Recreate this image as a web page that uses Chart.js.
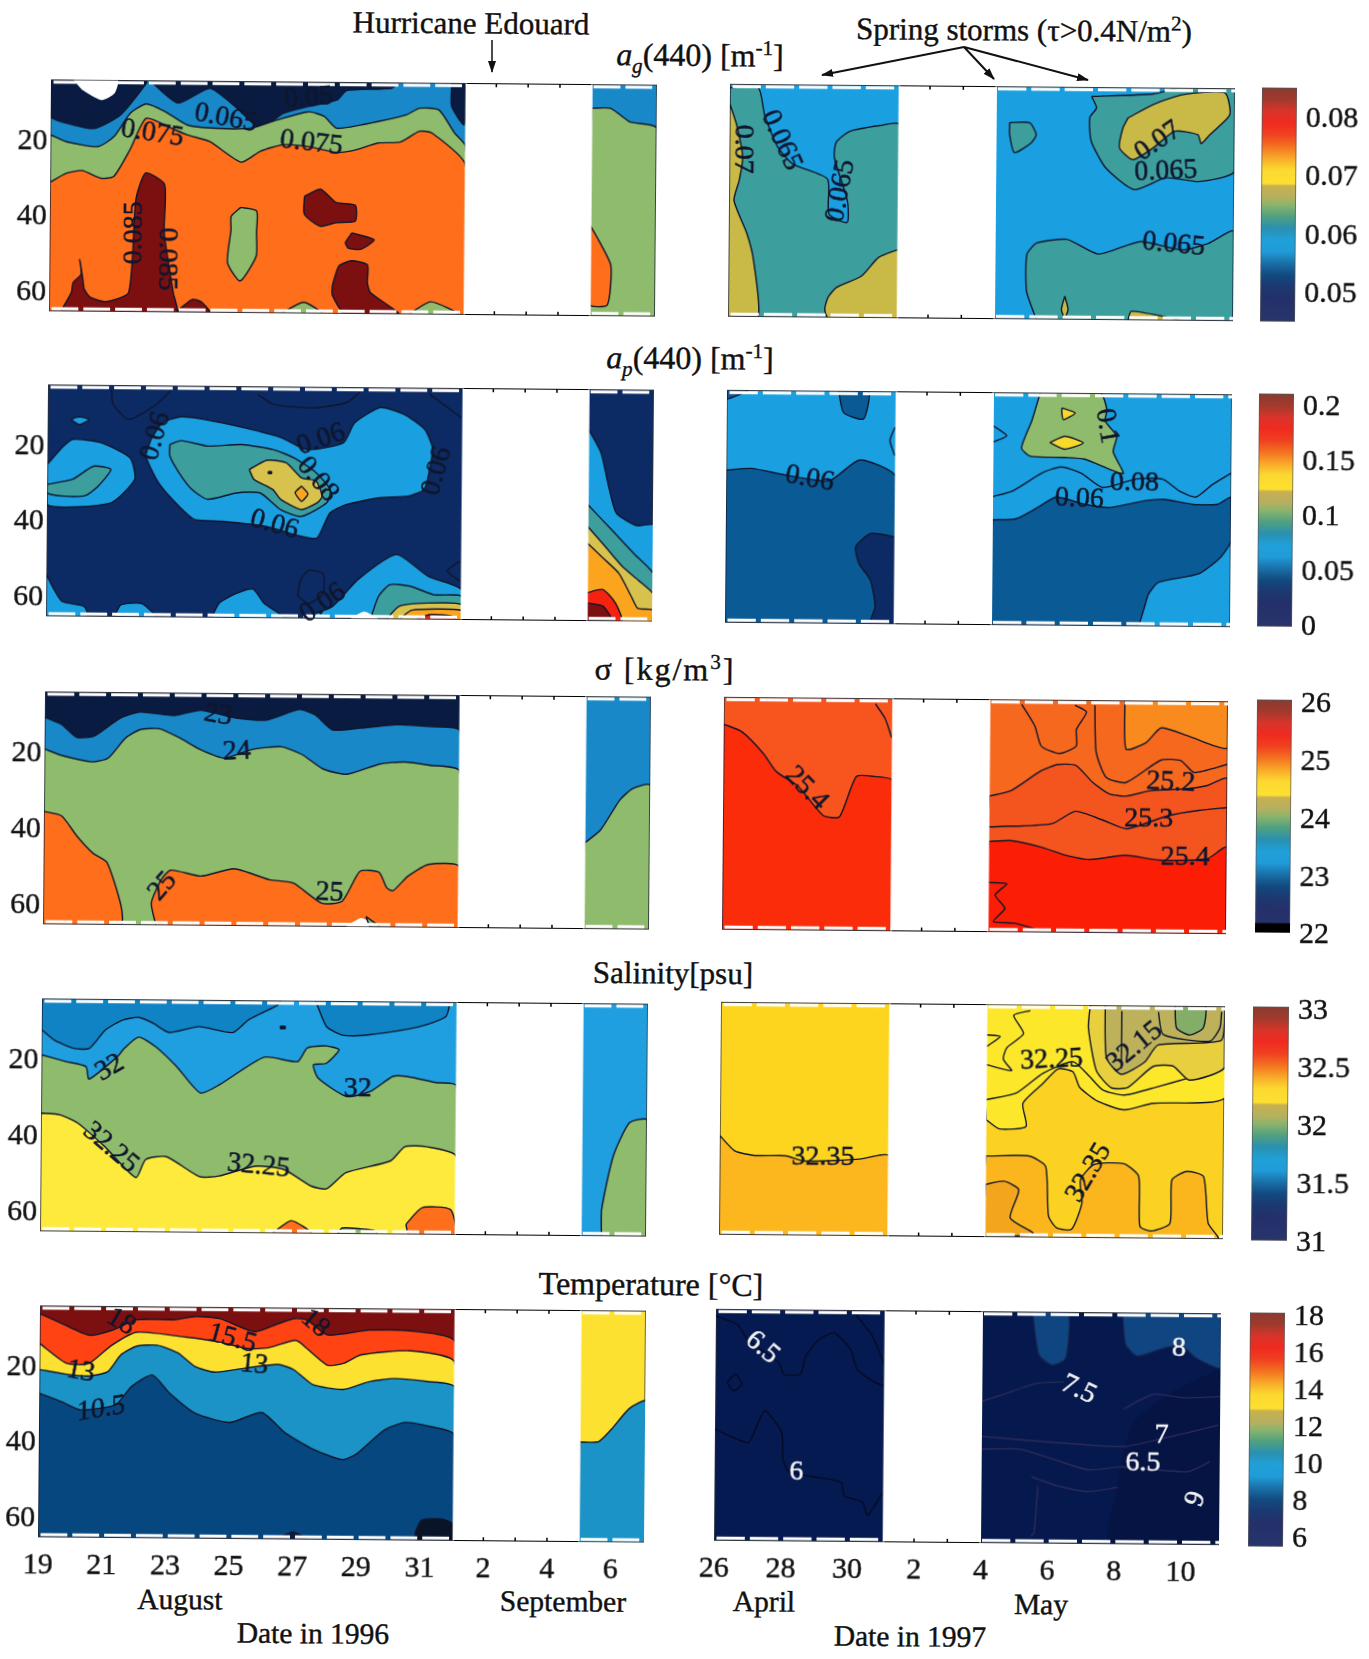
<!DOCTYPE html>
<html>
<head>
<meta charset="utf-8">
<title>Contours 1996 / 1997</title>
<script src="https://cdn.jsdelivr.net/npm/chart.js@4"></script>
<style>
  html, body { margin: 0; background: #fff; }
  #page { position: relative; width: 1369px; height: 1659px; overflow: hidden; font-family: "Liberation Serif", serif; color: #111; }
  #page canvas { position: absolute; }
  .txt { position: absolute; transform: translate(-50%, -50%) rotate(0.5deg); white-space: nowrap; font-size: 31px; line-height: 1; -webkit-text-stroke: 0.4px #111; }
  .txt sup, .txt sub { font-size: 21px; line-height: 0; }
  .head { font-size: 32px; }
  .foot { font-size: 29.5px; }
  svg { position: absolute; left: 0; top: 0; }
</style>
</head>
<body>
<div id="page">
  <div class="txt" style="left:471px;top:23px">Hurricane Edouard</div>
  <div class="txt" style="left:1024px;top:30px">Spring storms (τ&gt;0.4N/m<sup>2</sup>)</div>
  <div class="txt head" style="left:700px;top:55px"><i>a<sub>g</sub></i>(440) [m<sup>-1</sup>]</div>
  <div class="txt head" style="left:690px;top:358px"><i>a<sub>p</sub></i>(440) [m<sup>-1</sup>]</div>
  <div class="txt head" style="left:665px;top:669px;letter-spacing:2px">σ [kg/m<sup>3</sup>]</div>
  <div class="txt" style="left:673px;top:973px">Salinity[psu]</div>
  <div class="txt head" style="left:651px;top:1284px">Temperature [°C]</div>
  <div class="txt foot" style="left:180px;top:1600px">August</div>
  <div class="txt foot" style="left:563px;top:1602px">September</div>
  <div class="txt foot" style="left:313px;top:1634px">Date in 1996</div>
  <div class="txt foot" style="left:764px;top:1602px">April</div>
  <div class="txt foot" style="left:1041px;top:1605px">May</div>
  <div class="txt foot" style="left:910px;top:1637px">Date in 1997</div>
  <svg width="1369" height="1659">
    <defs><marker id="head" markerWidth="12" markerHeight="8" refX="11" refY="4" orient="auto" markerUnits="userSpaceOnUse"><path d="M0,0 L12,4 L0,8 Z" fill="#111"/></marker></defs>
    <g stroke="#111" stroke-width="2" fill="none" marker-end="url(#head)">
      <line x1="492" y1="40" x2="492" y2="72" stroke-width="1.5" marker-end="url(#head)"/>
      <line x1="964" y1="47" x2="822" y2="75" marker-end="url(#head)"/>
      <line x1="964" y1="47" x2="994" y2="79" marker-end="url(#head)"/>
      <line x1="964" y1="47" x2="1088" y2="80" marker-end="url(#head)"/>
    </g>
  </svg>
</div>
<script>
// axes
const depthRange = [4.5, 66];
const depthTicks = [20, 40, 60];
const dayRange96 = [19, 38.05];
const dayRange97 = [26, 41.15];
const sections96 = [[19, 32.08], [35.98, 38.05]];
const sections97 = [[26, 31.105], [33.965, 41.15]];
const gapTicks96 = [33, 34, 35];
const gapTicks97 = [32, 33];
const dayTicks96 = [19, 21, 23, 25, 27, 29, 31, 33, 35, 37];
const dayNames96 = ['19', '21', '23', '25', '27', '29', '31', '2', '4', '6'];
const dayTicks97 = [26, 28, 30, 32, 34, 36, 38, 40];
const dayNames97 = ['26', '28', '30', '2', '4', '6', '8', '10'];

// colour bars
const barAg = [0.0447, 0.085], tickAg = [0.05, 0.06, 0.07, 0.08];
const barAp = [-0.002, 0.21], tickAp = [0, 0.05, 0.1, 0.15, 0.2];
const barSigma = [22, 26.03], tickSigma = [22, 23, 24, 25, 26];
const barSal = [31, 33.01], tickSal = [31, 31.5, 32, 32.5, 33];
const barTemp = [5.45, 18.1], tickTemp = [6, 8, 10, 12, 14, 16, 18];
const sigmaBlack = [22, 22.16];
const cmapStops = [0, .05, .1, .15, .2, .25, .3, .35, .41, .42, .47, .5, .55, .6, .65, .7, .75, .8, .85, .9, 1];
const cmapColors = ['#8a3a30', '#a03a2c', '#d8342a', '#f02a20', '#f04020', '#f47020', '#f8a828', '#fcd830', '#fce030', '#c8b050', '#b4b060', '#8cb46c', '#50a080', '#2a90b0', '#20a0d8', '#209cd8', '#1a70a8', '#124a80', '#1c3870', '#24306a', '#28346c'];

// a_g 1996
const agNavyA = [[19,4.5],[22,4.5],[22,5.3],[21.2,13.7],[20.4,17.4],[19.7,16.5],[19,14.4]];
const agNavyB = [[22.1,4.5],[23,10.5],[24,6.5],[24.8,11.3],[25.6,17],[26.3,13],[27.1,11.1],[28,9.3],[28.3,6.8],[29.7,6.1],[29.9,4.5]];
const agNavyC = [[31.6,4.5],[32,4.5],[32,15.6],[31.6,10.7]];
const agHole = [[19.7,4.5],[20,7.3],[20.6,9.9],[21,8.1],[21.1,4.5]];
const agGreen = [[19,19.2],[19.5,21],[20.5,22.2],[21,19.5],[21.5,13.3],[22,10.8],[22.6,12.8],[23.3,16.3],[24.2,17.1],[25.3,17],[26.1,14.8],[27.1,12.5],[27.6,13.7],[28,16.8],[29.3,14.9],[30.2,13],[30.6,11.3],[31.2,11.7],[31.7,17.8],[32.05,21.3],[32.05,66],[19,66]];
const agOrange = [[19,31.8],[19.5,29.4],[20,28.6],[20.6,30.6],[21,30.1],[21.5,23],[22,14.6],[22.8,17.2],[23.3,18.9],[24,20.6],[25,26],[25.6,23.1],[26.3,21.3],[27.1,21.7],[28,23.2],[28.6,22.5],[29.3,20.6],[30,20.3],[30.6,17.4],[31,17.9],[32.05,26.2],[32.05,66],[19,66]];
const agRedSpike = [[19.4,65.5],[19.7,60.9],[19.75,58.3],[20,56.1],[19.95,52.2],[20.05,57],[20.1,60],[20.3,62.2],[20.8,63.3],[21.5,60.8],[21.7,36.2],[22,29.1],[22.6,32.1],[22.6,44.9],[22.9,60.7],[23,66],[19.4,66]];
const agRedLump = [[23.05,65.5],[23.5,62.5],[23.8,63.2],[24.05,66],[23.05,66]];
const agGreenIsle = [[25,38],[25.5,38.9],[25.5,44.7],[25.5,50.8],[25,57.5],[24.6,52.7],[24.7,43.9],[24.7,40.4]];
const agRedB = [[27,34.9],[27.5,33],[28,36.5],[28.6,37.2],[28.6,41.4],[28,41.8],[27.5,42.8],[27,39.7]];
const agRedC = [[28.5,44.5],[29.2,46.3],[28.8,48.8],[28.4,48.6],[28.3,47.1]];
const agRedD = [[27.9,58.5],[28.1,53.3],[28.5,51.9],[29,53],[29,57.6],[29.1,60.3],[30,66],[28.3,66],[27.9,61]];
const agBumpA = [[26.3,66],[27,63],[27.6,66]];
const agBumpB = [[30.3,66],[31,62.6],[31.9,66]];
const agGreen2 = [[36,10.9],[36.6,10.9],[37.2,14.4],[38.05,16.1],[38.05,66],[36,66]];
const agOrange2 = [[36,42.1],[36.3,46.5],[36.65,52.6],[36.55,63],[36,63]];

// a_g 1997
const ag2Teal = [[26,5.5],[26.85,5.5],[27.05,12.8],[27.45,21.1],[27.9,25.5],[28.95,29.4],[29,38.6],[29.55,40.8],[29.55,35.1],[29.15,23.7],[29.2,19.7],[29.6,16.8],[30.5,15.2],[31.1,14.9],[31.1,66],[26,66]];
const ag2OliveL = [[26,9.8],[26.2,15],[26.4,23.9],[26.3,30],[26.15,35.3],[26.55,44.1],[26.75,51],[26.9,66],[26,66]];
const ag2OliveR = [[31.1,47.8],[30.5,50],[30,54.9],[29.25,58],[29,60.6],[28.9,63.7],[29,66],[31.1,66]];
const ag2TealTop = [[36.85,7],[37,10],[36.8,12.6],[36.85,18.8],[37.3,25.9],[38.15,31.5],[39.1,28.3],[40.1,29.2],[41.15,26.5],[41.15,4.5],[39.5,4.5],[38.7,6.2]];
const ag2OliveTop = [[37.95,12.6],[38.7,9],[39.6,6.3],[40.85,5.8],[41,11.5],[40.4,16.9],[40.15,19.2],[40.05,16.9],[39.35,16],[38.7,20.5],[38.1,23.6],[37.7,20.5],[37.8,15.2]];
const ag2TealIsle = [[34.4,14.1],[35,14.1],[35.2,17.2],[35.05,19.4],[34.55,22],[34.4,17.2]];
const ag2TealLow = [[35.25,66],[34.95,58.6],[34.95,48.9],[35.25,45.8],[36.15,44.8],[37.1,48.6],[38.35,45.2],[39.6,47.3],[40.4,45.5],[41.15,42.3],[41.15,66]];
const ag2Diamond = [[36.1,59.8],[36.2,63.3],[36.1,65.5],[36,63.3]];
const ag2OliveLow = [[38,66],[38.1,63.6],[39.6,66]];

// a_p 1996
const apBlue = [[22.25,18.9],[22.6,14.4],[23.2,12.8],[23.9,13.4],[25.2,15.6],[26.35,18.1],[27.15,21.2],[28.3,19.3],[28.65,14],[29.45,9.9],[30.2,11.6],[30.85,15.5],[31.1,20.4],[31,27.1],[30.85,31.5],[30.35,33.3],[29.45,33.8],[28.4,35.7],[27.9,37.9],[27.5,44.6],[27,44.2],[25.85,41.6],[24.55,40.4],[23.65,40],[23.15,36.5],[22.5,30.3],[22.1,23.3]];
const apTeal = [[22.85,20.1],[23.2,19.1],[24.05,20.5],[25.1,20],[26.1,21.3],[26.75,23.4],[27.4,26.9],[27.9,31.7],[27.8,35.2],[27,38.9],[26.35,37.2],[25.7,32.8],[24.95,32.85],[24.05,34.6],[23.55,32],[23.15,27.7],[22.85,23.2]];
const apOlive = [[25.35,26.6],[25.9,24.1],[26.5,24.7],[27,28.7],[27.45,29.5],[27.65,33.5],[27.5,35.2],[27,37.1],[26.35,34.5],[26.1,31.9],[25.5,29.2]];
const apOrangeDot = [[27,30.9],[27.2,32.9],[27,34.9],[26.8,32.6]];
const apDot = [[25.95,27.1],[26.05,27.1],[26.05,27.6],[25.95,27.6]];
const apBlueLeft = [[19,25.7],[19.5,20.9],[19.8,19],[20.7,19.9],[21.6,23.8],[21.75,29.5],[21,35.8],[19,36.4]];
const apTealLeft = [[19,31],[19.8,29.6],[20.45,26.1],[21,26.9],[20.6,31.4],[20.2,33.9],[19.55,34.1],[19,33.3]];
const apSpeck = [[20,13],[20.3,13.7],[20,15.1],[19.75,13.7]];
const apLineA = [[21,5.7],[21.05,9.6],[21.55,13.6],[22.4,9.6],[22.9,5.5]];
const apLineB = [[25.6,6.7],[26.1,9.3],[27.4,10.1],[28.4,8.6],[28.8,5.9]];
const apLineC = [[31,6.2],[32,12.4]];
const apLoop = [[26.9,60],[27,55.7],[27.25,53.2],[27.7,54.1],[27.7,59.4],[27.25,62],[26.9,60]];
const apLineD = [[32,50.4],[31.6,53],[32,55.7]];
const apLowA = [[19,54.9],[19.25,58.9],[19.5,62],[20.2,63.3],[20.3,66],[19,66]];
const apLowB = [[21.15,66],[21.35,62.8],[22,62.4],[22.45,66]];
const apLowC = [[24.2,66],[24.45,62],[25,59.4],[25.5,58.3],[25.85,62],[26.5,66]];
const apLowD = [[27,66],[28,62.7],[28.8,55.5],[30,48.8],[31,54.5],[32.05,57.9],[32.05,66]];
const apLowTeal = [[29.2,66],[29.45,59.9],[29.8,56.8],[30.45,57.2],[31.2,59.4],[32.05,59.7],[32.05,66]];
const apLowOlive = [[29.7,66],[30.1,62.5],[31,61.6],[32.05,61.9],[32.05,66]];
const apLowOrange = [[30.1,66],[30.5,63.5],[32.05,63.4],[32.05,66]];
const apLowRed = [[30.6,66],[31.1,64.6],[31.75,65],[31.9,66]];
const apNotch = [[28.55,66],[29,64],[29.45,66]];
const apBlue2 = [[36,15.1],[36.4,21.3],[36.65,30.2],[36.9,37.3],[37.55,40.6],[38.1,40.4],[38.1,66],[36,66]];
const apTeal2 = [[36,35.1],[36.75,41.7],[37.45,47.9],[38.1,53.6],[38.1,66],[36,66]];
const apOlive2 = [[36,40.9],[36.6,46.6],[37.1,51.4],[37.6,55],[38.1,58.9],[38.1,66],[36,66]];
const apOrange2 = [[36,45.3],[36.5,49.3],[37,53.3],[37.4,59.5],[37.6,62.5],[38.1,62.9],[38.1,66],[36,66]];
const apRed2 = [[36,58.5],[36.5,57.6],[36.9,61.2],[37.1,66],[36,66]];
const apDark2 = [[36,61.2],[36.5,62],[36.8,66],[36,66]];

// a_p 1997
const ap2Mid = [[26,25.7],[26.75,25.2],[27.8,26.9],[29.1,28.2],[30,22.7],[31.1,27.2],[31.1,66],[26,66]];
const ap2Navy = [[31.1,43],[30.35,42.1],[29.9,45.6],[30,50],[30.35,54.4],[30.5,61.4],[30.35,66],[31.1,66]];
const ap2TopA = [[29.35,4.5],[30.25,4.5],[30.1,11.9],[29.5,10.2]];
const ap2TopB = [[26,4.5],[26.65,4.5],[26,6.9]];
const ap2Arc = [[31.05,14],[30.9,17.5],[31.05,21.5]];
const ap2Green = [[35.4,4.5],[35.15,12],[34.85,19.1],[35.1,21.3],[36.15,21.6],[36.75,22],[37.9,25.7],[37.6,20],[37.7,15.8],[37.35,11.9],[37.4,8.9],[37.2,4.5]];
const ap2YellowA = [[36.05,8.5],[36.45,9.8],[36.1,11.6],[36.05,9.8]];
const ap2YellowB = [[35.7,17.7],[36.15,16],[36.7,17.7],[36.15,19.4]];
const ap2Kink = [[34,13.4],[34.4,16],[34,17.7]];
const ap2Line08 = [[34,32.1],[34.6,30.5],[35.5,25.6],[36.05,24.1],[36.65,25.7],[37.3,29.45],[38.3,27.1],[39.1,27.1],[39.6,30.2],[40.1,31.7],[40.6,28.3],[41.15,25.3]];
const ap2Mid2 = [[34,38.2],[34.7,37.9],[35.35,34.85],[35.9,32.1],[36.75,33.85],[37.5,34.7],[38.55,32.85],[39.15,32.4],[40,33.65],[40.75,33.6],[41.15,31.8],[41.15,43.3],[40.85,47.6],[40.2,52],[39,54.3],[38.7,57.4],[38.55,61.8],[38.35,66],[34,66]];

// sigma 1996
const sigBlue = [[19,11.3],[19.55,13.3],[20,16.5],[20.55,16.2],[21.35,11.5],[22,9.7],[23.05,10.6],[23.9,9.1],[25,11.1],[25.95,11.6],[27,8.7],[27.5,10.1],[28.05,14],[28.9,13.5],[30.05,12.5],[31.1,12.9],[32.05,14],[32.05,66],[19,66]];
const sigGreen = [[19,19.7],[19.55,21.4],[20.5,23],[21,22],[21.55,16.6],[22,14.4],[22.6,14.1],[23.25,16.5],[23.9,19.5],[24.65,21.7],[25.55,19.3],[26.45,18.6],[27.1,20.6],[27.75,24.3],[28.5,25.7],[29.55,22.9],[30.3,22.3],[31.1,23.1],[32.05,24.6],[32.05,66],[19,66]];
const sigOrangeL = [[19,36.2],[19.55,37.3],[20.05,42.7],[20.55,47.1],[21,49.6],[21.45,61],[21.45,66],[19,66]];
const sigOrangeR = [[22.55,66],[22.4,60.1],[22.7,54],[23,51.4],[23.95,52.9],[25,50.9],[26.1,53.7],[26.85,54.5],[27.75,59.75],[28.4,59.2],[28.95,51.3],[29.55,51.5],[29.8,55.6],[30,56.3],[30.45,52.5],[31.1,49.3],[32.05,49.7],[32.05,66]];
const sigNotch = [[28.5,66],[29,63.6],[29.5,66]];
const sigGreenBit = [[29.15,63.2],[29.6,66],[29.3,66]];
const sigGreen2 = [[36,43.3],[36.5,39.8],[37.1,31.85],[37.5,28.8],[38.05,27.9],[38.05,66],[36,66]];

// sigma 1997
const sig2Red = [[26,11.7],[26.55,13.7],[27.2,19.4],[27.6,24.2],[28.25,27.9],[29,35.5],[29.5,35.9],[30,25.2],[30.55,25.2],[31.1,26.3],[31.1,66],[26,66]];
const sig2LineA = [[30.55,6],[30.85,9.9],[31.05,14.9]];
const sig2Light = [[38.05,4.5],[38.1,17.4],[38.7,15.6],[39.15,11.7],[40,13.9],[41.15,16.9],[41.15,4.5]];
const sig2Blob = [[34.95,5.8],[35.35,11.5],[35.55,16.8],[36.1,18.7],[36.6,16.7],[36.6,12.3],[36.9,7.7],[36.55,5.9]];
const sig2Line252 = [[37.15,5.9],[37.2,18.2],[37.5,24.8],[38.1,26.2],[39.15,20.2],[39.75,20.3],[40.15,23.4],[41.15,21.2]];
const sig2Band = [[34,30.1],[34.65,28.6],[35.55,23.3],[36.05,21.6],[36.6,21.8],[37.1,26.2],[37.6,29.2],[38.1,29.8],[38.85,28.3],[39.9,27.7],[40.55,26.8],[41.15,25],[41.15,66],[34,66]];
const sig2Line253 = [[34,38.2],[35,37.9],[35.9,37.2],[36.6,33.9],[37.45,36.3],[38.15,38.4],[39.4,34.8],[40.3,33.4],[41.15,32.6]];
const sig2Red2 = [[34,42.1],[34.65,41.8],[35.55,43.4],[36.3,45.5],[37.05,46.6],[38.1,45.4],[39.15,46.6],[40.55,46.2],[41.15,43.1],[41.15,66],[34,66]];
const sig2Jag = [[34,52.9],[34.55,53.2],[34.2,56.2],[34.5,59.7],[34.15,63.2],[34.8,63.6],[35.4,65]];

// salinity 1996
const salDarkA = [[19,12.8],[19.4,15.5],[20,17.6],[20.5,17.6],[21,12.7],[21.55,10],[22.05,9.3],[22.5,10.8],[23,13.2],[23.95,11.6],[25,13.1],[25.5,9.7],[26.4,5.8],[26.5,4.5],[19,4.5]];
const salDarkB = [[27.65,5.6],[27.95,11.3],[28.45,13.5],[29.25,13.4],[30.5,11.8],[31.15,10.4],[31.7,8.4],[31.8,5.8],[31.8,4.5],[27.6,4.5]];
const salDot = [[26.5,11.3],[26.65,11.3],[26.65,11.9],[26.5,11.9]];
const salGreen = [[19,19.4],[19.75,21.1],[20.4,22.4],[20.5,25.7],[21.4,19.6],[21.6,17.5],[22.05,14.5],[22.6,17.1],[23.25,22.2],[24,29.1],[24.6,26.9],[26,19.5],[27.05,20.6],[27.35,17],[27.95,16.4],[28.35,17.4],[27.95,21],[27.55,21.4],[27.7,24.9],[28.6,29.7],[29.35,28.3],[30.05,24.3],[30.5,24.3],[31.4,25.8],[32.05,26.6],[32.05,66],[19,66]];
const salYellow = [[19,34.8],[19.6,35.2],[20.15,37.3],[21,43.4],[22,51.6],[22.3,46.8],[22.95,46],[24,51.2],[24.6,51],[25.75,48.3],[26.65,49.1],[27.5,53.4],[28,54.1],[28.6,49.8],[30,46.6],[30.45,42.8],[31.15,42.8],[32.05,45.1],[32.05,66],[19,66]];
const salBumpA = [[26.3,66],[26.9,62.6],[27.55,66]];
const salBumpB = [[30.5,63.3],[31,58.9],[31.9,59.3],[32.05,66],[30.6,66]];
const salBumpC = [[28.35,66],[28.5,64.4],[29.5,65],[29.6,66]];
const salGreen2 = [[36.65,66],[36.65,58.9],[37,44.8],[37.5,36],[38.05,35.2],[38.05,66]];

// salinity 1997
const sal2Low = [[26,39.8],[26.45,43.8],[27.05,45],[28,45],[28.5,46.3],[29.3,46.2],[30.2,45.7],[31.1,44.8],[31.1,66],[26,66]];
const sal2Bright = [[34,35],[34.4,37.4],[35.2,36.7],[35.1,30.6],[35.7,25.3],[36.15,21.4],[36.6,22.2],[36.8,26.2],[37.35,29.9],[38.15,32.1],[39,30.3],[41.18,28.6],[41.18,4.5],[34,4.5]];
const sal2LineB = [[34,29.7],[34.9,27.9],[35.7,22.6],[36.6,19.5],[37.1,23.4],[37.5,26.9],[38.15,28.2],[39.15,25.9],[40.05,23.6],[41.15,20.9]];
const sal2Tan = [[37.1,4.5],[37.05,10.5],[37.3,21.8],[37.75,26.3],[38.25,26.2],[39,20.6],[39.6,20.4],[40.1,24.1],[41.15,20.7],[41.15,4.5]];
const sal2Olive = [[37.55,4.5],[37.6,18.4],[38.05,22.7],[38.75,19.4],[39.15,14.9],[41.05,13.5],[41.15,4.5]];
const sal2Green = [[39.65,4.5],[39.7,10.4],[40.1,12.2],[40.5,10.3],[40.55,4.5]];
const sal2LineC = [[39.15,6.2],[39.3,12.1],[40.7,13.8],[41,10.3],[41.05,6]];
const sal2LineD = [[38.05,6],[38.05,21.2]];
const sal2Jag = [[35.3,6.1],[34.8,7.4],[35.1,12.2],[34.6,16],[34.5,19],[34.75,22],[34,20.5]];
const sal2Kink = [[34,12.6],[34.4,13],[34,15.7]];
const sal2Low2 = [[34,44.6],[35.3,44.5],[35.8,47.2],[35.9,60.3],[36.15,63.4],[36.6,63.7],[36.9,56.8],[36.85,50.7],[37.25,46.6],[38.15,46.3],[38.6,49.6],[38.65,62.8],[39,64],[39.55,62],[39.6,50.5],[40.05,48.2],[40.55,49.5],[40.7,61.8],[41,66],[34,66]];
const sal2Deep = [[34,52.1],[34.55,51.2],[35,53.4],[34.75,60.9],[35.45,65],[34,66]];

// temperature 1996
const tmpRed = [[19,6.7],[19.7,9.3],[20.55,12.3],[21.25,11],[22.05,8.1],[23.2,8],[23.9,7.1],[24.65,7.6],[25.75,11],[26.5,8.8],[27,7.4],[27.4,7.8],[28.05,11.7],[29.35,10.3],[30.65,10.4],[32.05,13.2],[32.05,66],[19,66]];
const tmpYellow = [[19,14.6],[19.85,19.8],[20.55,19.8],[21.25,15],[22.05,11.4],[23.6,12.6],[24.65,13.8],[25.55,15.5],[26.2,15.2],[27.05,13.2],[27.4,15.3],[28.05,19.7],[28.55,19.2],[29.1,16.9],[30.65,15.7],[32.05,18.7],[32.05,66],[19,66]];
const tmpBlue = [[19,21.5],[19.85,22.7],[20.6,23.1],[21.15,21.9],[21.55,17.5],[22.05,15.1],[22.7,14.8],[23.35,16.8],[23.9,20.4],[24.5,21.8],[25.45,20.7],[26.5,19.6],[27,21],[27.6,24.9],[28.55,26.1],[29.35,24],[30.15,23.1],[31.2,23.8],[32.05,25.2],[32.05,66],[19,66]];
const tmpDeep = [[19,27.8],[19.7,30],[20.3,32.1],[21.4,30.7],[21.9,25.8],[22.55,22.7],[23.1,27.5],[23.9,32.7],[25,35.1],[26,32.4],[26.75,37.8],[27.65,42.1],[28.55,44.7],[29,43.1],[29.85,36.8],[30.5,34.7],[31.3,35.7],[32.05,37.8],[32.05,66],[19,66]];
const tmpBlack = [[30.85,64],[31.05,60.6],[31.7,60.2],[32.05,61.6],[32.05,66],[30.9,66]];
const tmpBit = [[26.5,66],[27,64],[27.5,66]];
const tmpBlue2 = [[36,39.5],[36.6,39.3],[37,36],[37.55,30.5],[38.1,28.5],[38.1,66],[36,66]];

// temperature 1997
const tmp2LineA = [[26,6.4],[26.65,8.6],[26.95,12.5],[27.9,18.6],[28.05,21.7],[28.55,21.6],[28.7,16.9],[29.1,12.4],[29.55,10.6],[30.05,15],[30.25,20.3],[30.7,23.2],[31.05,24.6]];
const tmp2LineB = [[30.2,5.8],[30.7,11.4],[31.05,18.5]];
const tmp2Loop = [[26.35,24],[26.6,21.8],[26.8,24.4],[26.55,26.2],[26.35,24]];
const tmp2LineC = [[26,36.4],[27,39.9],[27.25,35.4],[27.5,31.4],[28,37.1],[28.05,44.2],[28.2,47.2],[28.75,48.5],[29.8,50.2],[29.9,53.8],[30.45,55.4],[30.6,58.9],[31.05,52.8]];
const tmp2BlueA = [[35.5,4.5],[35.7,15.9],[36.1,18.6],[36.5,16.8],[36.55,4.5]];
const tmp2BlueB = [[38.2,4.5],[38.3,13],[38.65,16],[39.4,14],[39.95,13.1],[40.45,16.6],[41.15,18.9],[41.15,4.5]];
const tmp2Dark = [[41.15,19.2],[39.8,25],[38.6,33],[38.25,42],[38.05,52],[37.85,65.6],[41.15,66]];
const tmp2L75a = [[34,28.4],[34.75,26.2],[35.65,23.5],[36.45,23.1]];
const tmp2L75b = [[38.25,30.1],[39.15,26.1],[40.05,27],[41.15,26.6]];
const tmp2L7 = [[34,37.7],[35.15,38.5],[36.45,39.3],[38.25,40.1],[39.4,37.9],[41.1,34.2]];
const tmp2L65 = [[34,41.1],[35.15,41],[36.3,44],[37.2,46.3],[38.25,45.5],[40.2,46.6],[40.85,43.9]];
const tmp2L6a = [[35.5,48.3],[36.3,50.7],[37.2,52.1],[38.1,50.9]];
const tmp2L6b = [[35.7,50.8],[35.6,63.1],[35.5,64]];

// contour labels: day, depth, text, rotation
const agLabels = [[22.2,18.6,'0.075',8],[24.5,14.4,'0.065',10],[27.1,8.9,'0.05',-5],[27.2,20.8,'0.075',6],[21.65,45,'0.085',-90],[22.7,51.9,'0.085',90]];
const ag2Labels = [[26.4,21.7,'0.07',90],[27.55,19.3,'0.065',65],[29.35,32.5,'0.065',-80],[38.85,18.7,'0.07',-35],[39.1,26.6,'0.065',-3],[39.35,45.9,'0.065',5]];
const apLabels = [[27.6,18.5,'0.06',-20],[22.4,18,'0.06',-75],[26.15,41.2,'0.06',15],[31.25,26.6,'0.06',-75],[27.7,61.9,'0.06',-35],[27.5,29.1,'0.08',50]];
const ap2Labels = [[28.5,27.8,'0.06',10],[38.25,28.1,'0.08',0],[36.6,32.5,'0.06',2],[37.4,13.2,'0.1',80]];
const sigLabels = [[24.45,10.4,'23',10],[25.05,20,'24',-3],[22.75,55.7,'25',-50],[28,57,'25',2]];
const sig2Labels = [[28.5,28.5,'25.4',45],[39.45,26.1,'25.2',2],[38.8,35.75,'25.3',0],[39.9,45.8,'25.4',0]];
const salLabels = [[21.15,22.7,'32',-30],[28.95,27.7,'32',0],[21.2,43.8,'32.25',40],[25.85,48.3,'32.25',5]];
const sal2Labels = [[29.1,45.3,'32.35',0],[35.95,19.1,'32.25',-3],[38.45,15.5,'32.15',-40],[37.1,48.8,'32.35',-60]];
const tmpLabels = [[21.55,8.7,'18',30],[25.05,12.9,'15.5',15],[27.65,8.7,'18',40],[20.3,22,'13',10],[25.75,19.8,'13',5],[20.95,31.9,'10.5',-10]];
const tmp2Labels = [[27.4,14.7,'6.5',40],[28.45,47.6,'6',0],[36.9,25.1,'7.5',25],[39.9,13.95,'8',0],[39.4,36.9,'7',0],[38.85,44.4,'6.5',0],[40.35,53.5,'6',110]];

// palette
const NAVY = '#0a1b42', DEEP = '#0c2a63', BLUE = '#1888c8', SKY = '#1a9fe0', TEAL = '#3d9e9e', GREEN = '#8fbb6c', OLIVE = '#c9b947';
const ORANGE = '#ff6e1a', MAROON = '#7c1010', WHITE = '#ffffff', YELLOW = '#f6da2a', AMBER = '#fba41e', RED = '#f7210f', INK = '#10162c';
const MID = '#0a5a96';

const SERIF = '"Liberation Serif", serif';
const ROTATE = 0.5;
const FRAME = '#333';

function rectOf(sec) {
  return [[sec[0], depthRange[0]], [sec[1], depthRange[0]], [sec[1], depthRange[1]], [sec[0], depthRange[1]]];
}

// labels written at data positions through the chart's own scales
const contourLabels = {
  id: 'contourLabels',
  afterDatasetsDraw(chart, args, opts) {
    const ctx = chart.ctx;
    (opts.items || []).forEach(item => {
      ctx.save();
      ctx.translate(chart.scales.x.getPixelForValue(item[0]), chart.scales.y.getPixelForValue(item[1]));
      ctx.rotate(item[3] * Math.PI / 180);
      ctx.font = (item[2] === '10.5' ? 'italic ' : '') + '28px ' + SERIF;
      ctx.fillStyle = opts.color || INK;
      ctx.strokeStyle = opts.color || INK;
      ctx.lineWidth = 0.5;
      ctx.textAlign = 'center';
      ctx.textBaseline = 'middle';
      ctx.fillText(item[2], 0, 0);
      ctx.strokeText(item[2], 0, 0);
      ctx.restore();
    });
  }
};

function addPanel(cfg) {
  const isLeft = cfg.year === 96;
  const range = isLeft ? dayRange96 : dayRange97;
  const secs = isLeft ? sections96 : sections97;
  const gapDays = isLeft ? gapTicks96 : gapTicks97;
  const pxPerDay = cfg.w / (range[1] - range[0]);
  const pad = 4, sideW = 44, bottomH = 46;
  const bottom = cfg.bottomRow ? bottomH : 0;

  const layers = [];
  // [points, fill colour or null for a bare contour, line colour]
  cfg.layers.forEach(l => {
    const closed = l[1] ? l[0].concat([l[0][0]]) : l[0];
    layers.push({
      data: closed,
      showLine: true,
      pointRadius: 0,
      tension: l[2] === FRAME ? 0 : 0.2,
      borderColor: l[2] || INK,
      borderWidth: l[2] === 'none' ? 0 : 1.4,
      backgroundColor: l[1] || 'transparent',
      fill: l[1] ? 'shape' : false
    });
  });

  // gap between the two sampling periods
  const gapRect = rectOf([secs[0][1], secs[1][0]]);
  layers.push({ data: gapRect.concat([gapRect[0]]), showLine: true, pointRadius: 0, borderColor: WHITE, borderWidth: 3, backgroundColor: WHITE, fill: 'shape' });

  // white dashes along the top and bottom frame, broken at each day tick
  secs.forEach(sec => {
    [depthRange[0] + 0.7, depthRange[1] - 0.7].forEach(d => {
      layers.push({
        data: [[sec[0], d], [sec[1], d]], showLine: true, pointRadius: 0, borderColor: WHITE, borderWidth: 3,
        borderDash: [pxPerDay - 5, 5], borderDashOffset: pxPerDay - 2.5, fill: false
      });
    });
    depthRange.forEach(d => {
      layers.push({ data: [[sec[0], d], [sec[1], d]], showLine: true, pointRadius: 0, borderColor: '#3a3a40', borderWidth: 1.5, fill: false });
    });
  });

  // black frame and ticks across the gap
  depthRange.forEach(d => {
    layers.push({ data: [[secs[0][1], d], [secs[1][0], d]], showLine: true, pointRadius: 0, borderColor: '#000', borderWidth: 2, fill: false });
    layers.push({ data: gapDays.map(t => [t, d]), pointStyle: 'line', rotation: 90, pointRadius: 4, borderColor: '#000', pointBorderColor: '#000', pointBorderWidth: 1.5, showLine: false });
  });

  layers.forEach((ds, i) => { ds.order = layers.length - i; });

  const canvas = document.createElement('canvas');
  const leftMargin = pad + sideW;
  canvas.width = cfg.w + leftMargin + pad;
  canvas.height = cfg.h + pad * 2 + bottom;
  canvas.style.left = (cfg.cx - cfg.w / 2 - leftMargin) + 'px';
  canvas.style.top = (cfg.cy - cfg.h / 2 - pad) + 'px';
  canvas.style.transformOrigin = (leftMargin + cfg.w / 2) + 'px ' + (pad + cfg.h / 2) + 'px';
  canvas.style.transform = 'rotate(' + ROTATE + 'deg)';
  document.getElementById('page').appendChild(canvas);

  const tickVals = isLeft ? dayTicks96 : dayTicks97;
  const tickNames = isLeft ? dayNames96 : dayNames97;

  new Chart(canvas, {
    type: 'scatter',
    data: { datasets: layers },
    plugins: [contourLabels],
    options: {
      responsive: false,
      animation: false,
      layout: { autoPadding: false, padding: { left: isLeft ? pad : leftMargin, right: pad, top: pad, bottom: pad } },
      plugins: {
        legend: { display: false },
        tooltip: { enabled: false },
        contourLabels: { items: cfg.labels, color: cfg.labelColor }
      },
      scales: {
        x: {
          type: 'linear', min: range[0], max: range[1], display: !!cfg.bottomRow,
          grid: { display: false, drawTicks: false }, border: { display: false },
          afterBuildTicks: s => { s.ticks = tickVals.map(v => ({ value: v })); },
          afterFit: s => { s.height = bottom; s.paddingLeft = 0; s.paddingRight = 0; },
          ticks: {
            autoSkip: false, maxRotation: 0, minRotation: 0, padding: 10, color: '#111',
            font: { family: SERIF, size: 30 }, textStrokeColor: '#111', textStrokeWidth: 0.4,
            callback: v => tickNames[tickVals.indexOf(v)]
          }
        },
        y: {
          type: 'linear', reverse: true, min: depthRange[0], max: depthRange[1], display: isLeft,
          grid: { display: false, drawTicks: false }, border: { display: false },
          afterBuildTicks: s => { s.ticks = depthTicks.map(v => ({ value: v })); },
          afterFit: s => { s.width = isLeft ? sideW : 0; s.paddingTop = 0; s.paddingBottom = 0; },
          ticks: { padding: 3, labelOffset: 3.5, color: '#111', font: { family: SERIF, size: 30 }, textStrokeColor: '#111', textStrokeWidth: 0.4, callback: v => String(v) }
        }
      }
    }
  });
}

function addColorBar(cfg) {
  const canvas = document.createElement('canvas');
  const pad = 22, labelW = 84;
  canvas.width = cfg.w + labelW;
  canvas.height = cfg.h + pad * 2;
  canvas.style.left = cfg.x + 'px';
  canvas.style.top = (cfg.y - pad) + 'px';
  canvas.style.transform = 'rotate(' + ROTATE + 'deg)';
  document.getElementById('page').appendChild(canvas);

  const datasets = [];
  if (cfg.black) {
    datasets.push({ data: [cfg.black], backgroundColor: '#000', barPercentage: 1, categoryPercentage: 1, grouped: false, order: 0 });
  }
  datasets.push({
    data: [cfg.range],
    barPercentage: 1, categoryPercentage: 1, grouped: false, order: 1,
    borderColor: '#555', borderWidth: 1, borderSkipped: false,
    backgroundColor: c => {
      const area = c.chart.chartArea;
      if (!area) return '#888';
      const g = c.chart.ctx.createLinearGradient(0, area.top, 0, area.bottom);
      cmapStops.forEach((s, i) => g.addColorStop(s, cmapColors[i]));
      return g;
    }
  });

  new Chart(canvas, {
    type: 'bar',
    data: { labels: [''], datasets: datasets },
    options: {
      responsive: false,
      animation: false,
      layout: { autoPadding: false, padding: { top: pad, bottom: pad, left: 0, right: 0 } },
      plugins: { legend: { display: false }, tooltip: { enabled: false } },
      scales: {
        x: { display: false, offset: true },
        y: {
          position: 'right', min: cfg.range[0], max: cfg.range[1],
          grid: { display: false, drawTicks: false }, border: { display: false },
          afterBuildTicks: s => { s.ticks = cfg.ticks.map(v => ({ value: v })); },
          afterFit: s => { s.width = labelW; s.paddingTop = 0; s.paddingBottom = 0; },
          ticks: { padding: 9, labelOffset: 2.5, color: '#111', font: { family: SERIF, size: 30 }, textStrokeColor: '#111', textStrokeWidth: 0.4, callback: v => String(v) }
        }
      }
    }
  });
}

addPanel({
  year: 96, cx: 352.5, cy: 198, w: 606, h: 232, labels: agLabels,
  layers: [
    [rectOf(sections96[0]), BLUE, FRAME], [agNavyA, NAVY], [agNavyB, NAVY], [agNavyC, NAVY], [agHole, WHITE, 'none'],
    [agGreen, GREEN], [agOrange, ORANGE], [agRedSpike, MAROON], [agRedLump, MAROON], [agGreenIsle, GREEN],
    [agRedB, MAROON], [agRedC, MAROON], [agRedD, MAROON], [agBumpA, GREEN], [agBumpB, GREEN],
    [rectOf(sections96[1]), BLUE, FRAME], [agGreen2, GREEN], [agOrange2, ORANGE]
  ]
});
addPanel({
  year: 97, cx: 981.4, cy: 202, w: 505, h: 233, labels: ag2Labels,
  layers: [
    [rectOf(sections97[0]), SKY, FRAME], [ag2Teal, TEAL], [ag2OliveL, OLIVE], [ag2OliveR, OLIVE],
    [rectOf(sections97[1]), SKY, FRAME], [ag2TealTop, TEAL], [ag2OliveTop, OLIVE], [ag2TealIsle, TEAL], [ag2TealLow, TEAL], [ag2Diamond, OLIVE], [ag2OliveLow, OLIVE]
  ]
});
addPanel({
  year: 96, cx: 350, cy: 503.2, w: 606, h: 232, labels: apLabels,
  layers: [
    [rectOf(sections96[0]), DEEP, FRAME], [apBlue, SKY], [apTeal, TEAL], [apOlive, '#d8c24e'], [apOrangeDot, AMBER], [apDot, NAVY],
    [apBlueLeft, SKY], [apTealLeft, TEAL], [apSpeck, SKY], [apLineA, null], [apLineB, null], [apLineC, null], [apLoop, null], [apLineD, null],
    [apLowA, SKY], [apLowB, SKY], [apLowC, SKY], [apLowD, SKY], [apLowTeal, TEAL], [apLowOlive, '#d8c24e'], [apLowOrange, AMBER], [apLowRed, RED], [apNotch, WHITE, 'none'],
    [rectOf(sections96[1]), DEEP, FRAME], [apBlue2, SKY], [apTeal2, TEAL], [apOlive2, '#d8c24e'], [apOrange2, AMBER], [apRed2, RED], [apDark2, MAROON]
  ]
});
addPanel({
  year: 97, cx: 978, cy: 508, w: 505, h: 233, labels: ap2Labels,
  layers: [
    [rectOf(sections97[0]), SKY, FRAME], [ap2Mid, MID], [ap2Navy, DEEP], [ap2TopA, MID], [ap2TopB, MID], [ap2Arc, null],
    [rectOf(sections97[1]), SKY, FRAME], [ap2Green, GREEN], [ap2YellowA, YELLOW], [ap2YellowB, YELLOW], [ap2Kink, null], [ap2Line08, null], [ap2Mid2, MID]
  ]
});
addPanel({
  year: 96, cx: 346.5, cy: 810.7, w: 606, h: 233, labels: sigLabels,
  layers: [
    [rectOf(sections96[0]), NAVY, FRAME], [sigBlue, BLUE], [sigGreen, GREEN], [sigOrangeL, ORANGE], [sigOrangeR, ORANGE], [sigNotch, WHITE, 'none'], [sigGreenBit, GREEN],
    [rectOf(sections96[1]), BLUE, FRAME], [sigGreen2, GREEN]
  ]
});
addPanel({
  year: 97, cx: 975.4, cy: 815, w: 504, h: 233, labels: sig2Labels,
  layers: [
    [rectOf(sections97[0]), '#f8541e', FRAME], [sig2Red, '#fb2c0a'], [sig2LineA, null],
    [rectOf(sections97[1]), '#f6681e', FRAME], [sig2Light, '#f98a1e'], [sig2Blob, null], [sig2Line252, null], [sig2Band, '#f4541e'], [sig2Line253, null], [sig2Red2, '#fb1e05'], [sig2Jag, null]
  ]
});
addPanel({
  year: 96, cx: 344.2, cy: 1117.5, w: 606, h: 233, labels: salLabels,
  layers: [
    [rectOf(sections96[0]), '#1f9fdf', FRAME], [salDarkA, '#0f83c3'], [salDarkB, '#0f83c3'], [salDot, NAVY], [salGreen, GREEN], [salYellow, '#fdea3c'], [salBumpA, ORANGE], [salBumpB, ORANGE], [salBumpC, GREEN],
    [rectOf(sections96[1]), '#1f9fdf', FRAME], [salGreen2, GREEN]
  ]
});
addPanel({
  year: 97, cx: 971.5, cy: 1120, w: 504, h: 233, labels: sal2Labels,
  layers: [
    [rectOf(sections97[0]), '#fdd51f', FRAME], [sal2Low, '#fcb71e'],
    [rectOf(sections97[1]), '#fbd222', FRAME], [sal2Bright, '#fde72b'], [sal2LineB, null], [sal2Tan, '#e8cf3e'], [sal2Olive, '#bdb15c'], [sal2Green, '#84ae68'],
    [sal2LineC, null], [sal2LineD, null], [sal2Jag, null], [sal2Kink, null], [sal2Low2, '#fbb61e'], [sal2Deep, '#f4a51e']
  ]
});
addPanel({
  year: 96, bottomRow: true, cx: 341.7, cy: 1423.5, w: 606, h: 232, labels: tmpLabels,
  layers: [
    [rectOf(sections96[0]), MAROON, FRAME], [tmpRed, '#ff4312'], [tmpYellow, '#fde131'], [tmpBlue, '#1c93c6'], [tmpDeep, '#07477f'], [tmpBlack, '#0a1428'], [tmpBit, NAVY],
    [rectOf(sections96[1]), '#fde131', FRAME], [tmpBlue2, '#1c93c6']
  ]
});
addPanel({
  year: 97, bottomRow: true, cx: 967.5, cy: 1426.7, w: 505, h: 232, labels: tmp2Labels, labelColor: '#f2f2f2',
  layers: [
    [rectOf(sections97[0]), '#061a52', FRAME], [tmp2LineA, null, '#050a20'], [tmp2LineB, null, '#050a20'], [tmp2Loop, null, '#050a20'], [tmp2LineC, null, '#050a20'],
    [rectOf(sections97[1]), '#06194e', FRAME], [tmp2BlueA, '#0f4580', '#1a2850'], [tmp2BlueB, '#0f4580', '#1a2850'], [tmp2Dark, '#051443', 'none'],
    [tmp2L75a, null, '#2b2a58'], [tmp2L75b, null, '#2b2a58'], [tmp2L7, null, '#2b2a58'], [tmp2L65, null, '#2b2a58'], [tmp2L6a, null, '#2b2a58'], [tmp2L6b, null, '#2b2a58']
  ]
});

addColorBar({ x: 1261, y: 88, w: 35, h: 234, range: barAg, ticks: tickAg });
addColorBar({ x: 1258, y: 394, w: 35, h: 233, range: barAp, ticks: tickAp });
addColorBar({ x: 1256, y: 700, w: 35, h: 233, range: barSigma, ticks: tickSigma, black: sigmaBlack });
addColorBar({ x: 1252, y: 1007, w: 36, h: 234, range: barSal, ticks: tickSal });
addColorBar({ x: 1249, y: 1313, w: 35, h: 234, range: barTemp, ticks: tickTemp });
</script>
</body>
</html>
